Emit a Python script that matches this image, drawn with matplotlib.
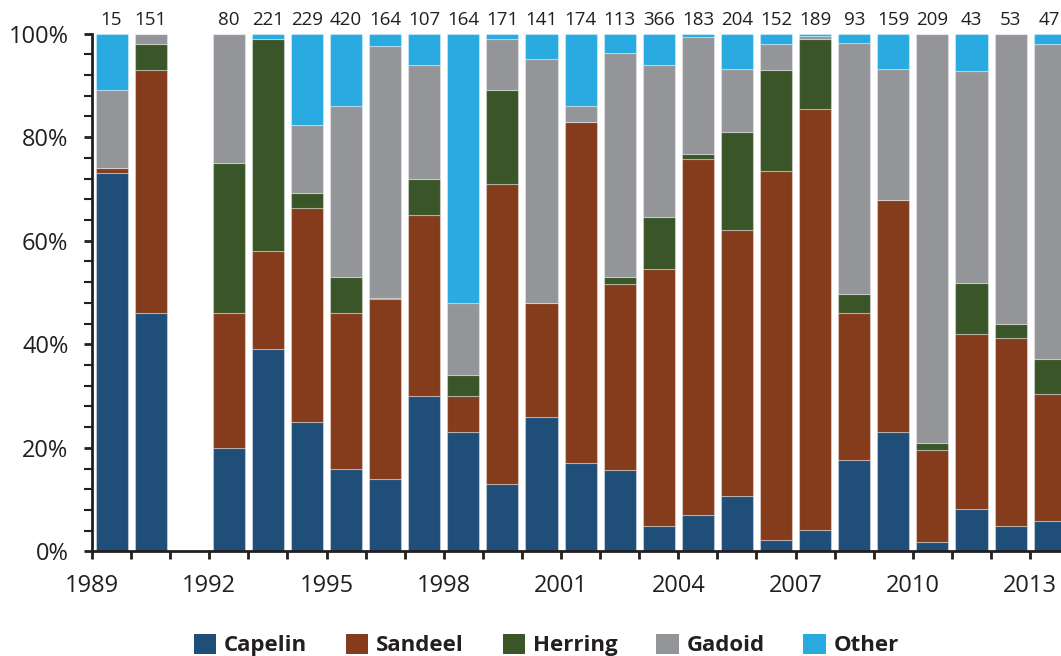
import numpy as np
import matplotlib
matplotlib.use('Agg')
import matplotlib.pyplot as plt
from matplotlib.patches import Patch

plt.rcParams['font.family'] = ['Open Sans', 'DejaVu Sans']

# Dados: proporcao (%) de cada presa por ano (1991 sem dados)
anos = [1989, 1990, 1992, 1993, 1994, 1995, 1996, 1997, 1998, 1999, 2000, 2001,
        2002, 2003, 2004, 2005, 2006, 2007, 2008, 2009, 2010, 2011, 2012, 2013]
n_amostras = [15, 151, 80, 221, 229, 420, 164, 107, 164, 171, 141, 174,
              113, 366, 183, 204, 152, 189, 93, 159, 209, 43, 53, 47]

capelin = [73, 46, 20, 39, 25, 16, 14, 30, 23, 13, 26, 17,
           15.7, 5, 7, 10.8, 2.3, 4.2, 17.7, 23.1, 1.9, 8.3, 5, 5.9]
sandeel = [1, 47, 26, 19, 41.3, 30, 34.7, 35, 7, 58, 22, 66,
           36, 49.5, 68.8, 51.2, 71.1, 81.3, 28.3, 44.8, 17.6, 33.6, 36.3, 24.6]
herring = [0, 5, 29, 41, 3, 7, 0.3, 7, 4, 18, 0, 0,
           1.2, 10, 1, 19, 19.5, 13.4, 3.7, 0, 1.4, 9.9, 2.6, 6.7]
gadoid = [15, 2, 25, 0, 13, 33, 48.6, 22, 14, 10, 47, 3,
          43.4, 29.5, 22.5, 12.1, 5, 0.7, 48.5, 25.2, 79.1, 41, 56.1, 60.8]
other = [11, 0, 0, 1, 17.7, 14, 2.4, 6, 52, 1, 5, 14,
         3.7, 6, 0.7, 6.9, 2.1, 0.4, 1.8, 6.9, 0, 7.2, 0, 2]

nomes = ['Capelin', 'Sandeel', 'Herring', 'Gadoid', 'Other']
cores = ['#1f4e79', '#843c1c', '#3a5629', '#939598', '#29abe2']
cor_texto = '#231f20'

fig = plt.figure(figsize=(10.61, 6.56), dpi=100)
ax = fig.add_axes([0.0867, 0.1593, 0.9133, 0.7896])

x = np.array(anos) + 0.5
base = np.zeros(len(anos))
for serie, cor, nome in zip([capelin, sandeel, herring, gadoid, other], cores, nomes):
    v = np.array(serie, dtype=float)
    ax.bar(x, v, 0.82, bottom=base, color=cor, edgecolor=(1, 1, 1, 0.35),
           linewidth=0.8, label=nome)
    base = base + v

# numero de amostras acima das barras
for xi, n in zip(x, n_amostras):
    ax.annotate(str(n), (xi, 100), xytext=(0, 3.5), textcoords='offset points',
                ha='center', va='bottom', fontsize=13.5, color=cor_texto,
                annotation_clip=False)

ax.set_xlim(1989, 2013.79)
ax.set_ylim(0, 100)

ax.set_xticks(np.arange(1989, 2014, 1))
ax.set_xticklabels([str(a) if (a - 1989) % 3 == 0 else '' for a in range(1989, 2014)])
ax.set_yticks(np.arange(0, 101, 20))
ax.set_yticklabels(['%d%%' % v for v in range(0, 101, 20)])
ax.set_yticks(np.arange(0, 101, 4), minor=True)

ax.tick_params(axis='both', which='major', direction='out', length=6, width=2,
               labelsize=17, colors=cor_texto, pad=11)
ax.tick_params(axis='y', which='minor', direction='out', length=6, width=1.5,
               colors=cor_texto)
ax.tick_params(axis='x', which='major', pad=10)

for lado in ['top', 'right']:
    ax.spines[lado].set_visible(False)
for lado in ['left', 'bottom']:
    ax.spines[lado].set_linewidth(2)
    ax.spines[lado].set_color(cor_texto)

handles = [Patch(facecolor=c, edgecolor='none') for c in cores]
leg = fig.legend(handles, nomes, loc='center', bbox_to_anchor=(0.515, 1 - 645 / 656),
                 ncol=5, frameon=False, handlelength=1.0, handleheight=1.0,
                 handletextpad=0.35, columnspacing=1.75,
                 prop={'size': 16, 'weight': 'bold'})
for t in leg.get_texts():
    t.set_color(cor_texto)

fig.savefig('out.png', dpi=100)
